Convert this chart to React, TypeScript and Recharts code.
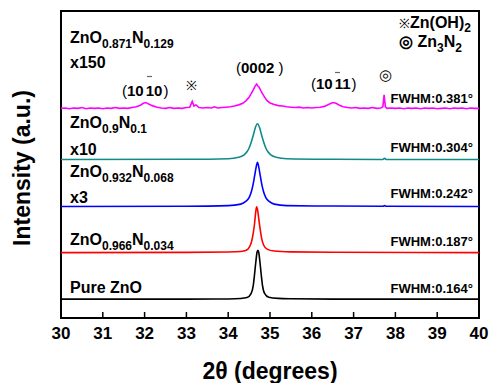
import React from "react";
import { LineChart, Line, XAxis, YAxis, ReferenceArea } from "recharts";

const FONT = '"Liberation Sans", Arial, Helvetica, sans-serif';

// 2θ axis
const majorTicks = [30, 31, 32, 33, 34, 35, 36, 37, 38, 39, 40];
const minorTicks = [30.5, 31.5, 32.5, 33.5, 34.5, 35.5, 36.5, 37.5, 38.5, 39.5];
const yTicks = [0, 1, 2, 3, 4, 5, 6, 7];
const Y_MIN = -0.47;
const Y_MAX = 7.51;

// Pure ZnO (black)
const pureX = [30, 33, 34.0, 34.3, 34.45, 34.55, 34.6, 34.63, 34.66, 34.69, 34.71, 34.73, 34.76, 34.79, 34.82, 34.87, 34.97, 35.2, 35.5, 36.5, 40];
const pureY = [0.02, 0.02, 0.025, 0.035, 0.06, 0.17, 0.38, 0.66, 0.98, 1.24, 1.29, 1.24, 0.98, 0.66, 0.38, 0.17, 0.07, 0.04, 0.03, 0.02, 0.02];

// ZnO0.966N0.034 (red)
const n034X = [30, 33, 34.0, 34.3, 34.43, 34.51, 34.56, 34.6, 34.63, 34.66, 34.68, 34.7, 34.73, 34.77, 34.8, 34.85, 34.93, 35.1, 35.5, 36.5, 40];
const n034Y = [1.23, 1.235, 1.245, 1.26, 1.29, 1.38, 1.52, 1.74, 1.98, 2.3, 2.42, 2.36, 2.12, 1.8, 1.6, 1.42, 1.32, 1.27, 1.25, 1.24, 1.23];

// ZnO0.932N0.068 x3 (blue)
const n068X = [30, 33, 34.0, 34.3, 34.42, 34.5, 34.55, 34.59, 34.63, 34.67, 34.7, 34.73, 34.77, 34.81, 34.85, 34.9, 34.98, 35.1, 35.4, 36.5, 37.7, 37.74, 37.78, 40];
const n068Y = [2.43, 2.435, 2.45, 2.49, 2.56, 2.66, 2.8, 2.97, 3.21, 3.46, 3.58, 3.46, 3.21, 2.97, 2.8, 2.66, 2.56, 2.49, 2.45, 2.44, 2.435, 2.45, 2.435, 2.43];

// ZnO0.9N0.1 x10 (teal)
const n100X = [30, 33, 34.0, 34.25, 34.38, 34.45, 34.5, 34.55, 34.6, 34.65, 34.7, 34.75, 34.8, 34.85, 34.9, 34.95, 35.02, 35.15, 35.4, 36.5, 37.7, 37.74, 37.78, 40];
const n100Y = [3.65, 3.655, 3.67, 3.71, 3.77, 3.85, 3.95, 4.1, 4.28, 4.48, 4.58, 4.48, 4.28, 4.1, 3.95, 3.85, 3.77, 3.71, 3.67, 3.655, 3.65, 3.68, 3.65, 3.65];

// ZnO0.871N0.129 x150 (magenta)
const n129X = [
  30.0, 30.1, 30.2, 30.3, 30.4, 30.5, 30.6, 30.7, 30.8, 30.9, 31.0, 31.1, 31.2, 31.3, 31.4, 31.5, 31.6, 31.7,
  31.8, 31.9, 31.97, 32.03, 32.1, 32.18, 32.3, 32.4, 32.5, 32.6, 32.7, 32.8, 32.9, 33.0, 33.08, 33.14, 33.18,
  33.23, 33.3, 33.4, 33.5, 33.6, 33.67, 33.75, 33.85, 33.95, 34.05, 34.15, 34.25, 34.35, 34.43, 34.5, 34.55,
  34.6, 34.64, 34.68, 34.71, 34.74, 34.78, 34.82, 34.87, 34.93, 35.0, 35.1, 35.2, 35.3, 35.4, 35.5, 35.6,
  35.7, 35.8, 35.9, 36.0, 36.1, 36.2, 36.3, 36.4, 36.5, 36.58, 36.66, 36.75, 36.85, 36.95, 37.05, 37.15,
  37.25, 37.35, 37.45, 37.55, 37.65, 37.7, 37.73, 37.76, 37.8, 37.9, 38.0, 38.1, 38.2, 38.3, 38.4, 38.5,
  38.6, 38.7, 38.8, 38.9, 39.0, 39.1, 39.2, 39.3, 39.4, 39.5, 39.6, 39.7, 39.8, 39.9, 40.0,
];
const n129Y = [
  4.98, 4.99, 4.97, 4.99, 4.98, 5.0, 4.97, 4.99, 4.98, 4.99, 4.97, 4.99, 4.98, 5.0, 4.98, 4.99, 4.98, 5.0,
  5.02, 5.06, 5.11, 5.13, 5.09, 5.05, 5.01, 4.99, 4.98, 5.0, 4.98, 4.99, 4.98, 5.0, 5.01, 5.16, 5.04,
  5.07, 5.0, 4.99, 5.0, 4.99, 5.02, 4.99, 5.0, 5.01, 5.02, 5.04, 5.07, 5.11, 5.18, 5.27, 5.36,
  5.46, 5.55, 5.61, 5.56, 5.53, 5.44, 5.36, 5.27, 5.18, 5.12, 5.08, 5.05, 5.04, 5.02, 5.01, 5.0,
  5.01, 4.99, 5.0, 4.99, 5.0, 5.01, 5.03, 5.08, 5.13, 5.11, 5.06, 5.02, 5.0, 4.99, 5.0, 4.98,
  4.99, 4.98, 5.0, 4.98, 4.99, 5.02, 5.33, 5.02, 4.98, 4.99, 4.98, 4.99, 4.97, 4.99, 4.98, 4.99,
  4.97, 4.99, 4.98, 4.99, 4.97, 4.98, 4.99, 4.97, 4.99, 4.98, 4.99, 4.97, 4.99, 4.98, 4.98,
];

const zip = (xs: number[], ys: number[]) => xs.map((x, i) => ({ x, y: ys[i] }));

const SERIES = [
  { key: "pure", data: zip(pureX, pureY), color: "#000000", type: "monotone" },
  { key: "n034", data: zip(n034X, n034Y), color: "#ff0000", type: "monotone" },
  { key: "n068", data: zip(n068X, n068Y), color: "#0000ff", type: "monotone" },
  { key: "n100", data: zip(n100X, n100Y), color: "#108a8a", type: "monotone" },
  { key: "n129", data: zip(n129X, n129Y), color: "#ff00ff", type: "linear" },
];

function Formula({ x, y, parts, size = 16, sub = 12 }: { x: number; y: number; parts: [string, string][]; size?: number; sub?: number }) {
  return (
    <text x={x} y={y} fontSize={size} fontWeight="bold" fill="#000">
      {parts.map(([t, s], i) => (
        <React.Fragment key={i}>
          <tspan dy={i === 0 ? 0 : -4.5} fontSize={size}>{t}</tspan>
          {s ? <tspan dy={4.5} fontSize={sub}>{s}</tspan> : null}
        </React.Fragment>
      ))}
    </text>
  );
}

function Fwhm({ y, value }: { y: number; value: string }) {
  return (
    <text x={473} y={y} fontSize={13} fontWeight="bold" textAnchor="end" fill="#000">
      {`FWHM:${value}°`}
    </text>
  );
}

function Miller({ x, y, digits, gap, close = 1 }: { x: number; y: number; digits: string; gap: number; close?: number }) {
  return (
    <text x={x} y={y} fontSize={15} fill="#000">
      <tspan fontWeight="normal">(</tspan>
      <tspan fontWeight="bold">{digits.slice(0, 2)}</tspan>
      <tspan fontWeight="bold" dx={gap}>{digits.slice(2)}</tspan>
      <tspan fontWeight="normal" dx={close}>)</tspan>
    </text>
  );
}

export default function App() {
  const tickLine = { stroke: "#000", strokeWidth: 1.5 };
  return (
    <div style={{ position: "absolute", left: 0, top: 0, width: 489, height: 383, background: "#fff", fontFamily: FONT }}>
      <LineChart width={489} height={383} margin={{ top: 11, right: 10, left: 60, bottom: 0 }}>
        <XAxis
          xAxisId="minor"
          type="number"
          dataKey="x"
          domain={[30, 40]}
          allowDataOverflow
          ticks={minorTicks}
          interval={0}
          height={1}
          tickSize={-3}
          tick={false}
          tickLine={tickLine}
          axisLine={false}
        />
        <XAxis
          type="number"
          dataKey="x"
          domain={[30, 40]}
          allowDataOverflow
          ticks={majorTicks}
          interval={0}
          height={64}
          tickSize={-6}
          tickMargin={15}
          tickLine={tickLine}
          axisLine={false}
          tick={{ fill: "#000", fontSize: 17, fontWeight: "bold", fontFamily: FONT }}
        />
        <YAxis
          type="number"
          domain={[Y_MIN, Y_MAX]}
          allowDataOverflow
          ticks={yTicks}
          interval={0}
          width={1}
          tickSize={-5}
          tick={false}
          tickLine={tickLine}
          axisLine={false}
        />
        <ReferenceArea x1={30} x2={40} y1={Y_MIN} y2={Y_MAX} fill="none" stroke="#000" strokeWidth={2} ifOverflow="visible" />
        {SERIES.map((s) => (
          <Line
            key={s.key}
            data={s.data}
            dataKey="y"
            type={s.type as "monotone" | "linear"}
            stroke={s.color}
            strokeWidth={1.6}
            dot={false}
            activeDot={false}
            isAnimationActive={false}
          />
        ))}
      </LineChart>
      <svg
        width={489}
        height={383}
        style={{ position: "absolute", left: 0, top: 0, pointerEvents: "none", fontFamily: FONT }}
      >
        <Formula x={70} y={43} parts={[["ZnO", "0.871"], ["N", "0.129"]]} />
        <text x={70} y={68} fontSize={16} fontWeight="bold">x150</text>
        <Formula x={70} y={128} parts={[["ZnO", "0.9"], ["N", "0.1"]]} />
        <text x={70} y={155} fontSize={16} fontWeight="bold">x10</text>
        <Formula x={70} y={177} parts={[["ZnO", "0.932"], ["N", "0.068"]]} />
        <text x={70} y={203} fontSize={16} fontWeight="bold">x3</text>
        <Formula x={70} y={245} parts={[["ZnO", "0.966"], ["N", "0.034"]]} />
        <text x={70} y={293} fontSize={16} fontWeight="bold">Pure ZnO</text>

        <Fwhm y={103} value="0.381" />
        <Fwhm y={152} value="0.304" />
        <Fwhm y={198} value="0.242" />
        <Fwhm y={246} value="0.187" />
        <Fwhm y={293} value="0.164" />

        <Miller x={122} y={96} digits="1010" gap={2} />
        <line x1={147} x2={152} y1={76.5} y2={76.5} stroke="#666" strokeWidth={1.2} />
        <text x={191} y={90} fontSize={13} textAnchor="middle">※</text>
        <Miller x={236} y={73} digits="0002" gap={0} close={4} />
        <Miller x={311} y={89} digits="1011" gap={2} />
        <line x1={335} x2={340} y1={72.5} y2={72.5} stroke="#666" strokeWidth={1.2} />
        <text x={385} y={80} fontSize={15} textAnchor="middle">◎</text>

        <text x={399} y={28} fontSize={16} fontWeight="bold">
          <tspan fontWeight="normal" fontSize={13}>※</tspan>
          <tspan>Zn(OH)</tspan>
          <tspan dy={4} fontSize={12}>2</tspan>
        </text>
        <Formula x={399} y={47} size={16} parts={[["◎ Zn", "3"], ["N", "2"]]} />

        <text x={270} y={379} fontSize={23} fontWeight="bold" textAnchor="middle">2θ (degrees)</text>
        <text
          x={0}
          y={0}
          fontSize={23}
          fontWeight="bold"
          textAnchor="middle"
          transform="translate(30 168) rotate(-90)"
        >
          Intensity (a.u.)
        </text>
      </svg>
    </div>
  );
}
